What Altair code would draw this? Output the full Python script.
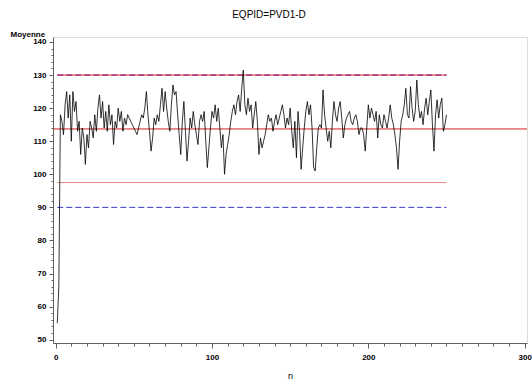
import altair as alt
import pandas as pd

# Série "Moyenne" (n = 1 .. 250)
moyenne = [
    55, 66, 118, 116, 112, 121, 125, 117, 124, 110,
    125, 119, 122, 113, 116, 106, 114, 111, 103, 112,
    108, 116, 114, 111, 118, 113, 120, 124, 117, 122,
    114, 119, 113, 121, 115, 118, 109, 116, 114, 120,
    116, 119, 113, 117, 115, 118, 117, 116, 115, 114,
    113, 112, 114, 116, 118, 117, 120, 125, 118, 113,
    107, 111, 117, 115, 118, 116, 121, 126, 119, 125,
    120, 116, 113, 121, 127, 124, 125, 118, 112, 106,
    116, 122, 113, 104, 110, 117, 114, 119, 115, 112,
    109, 116, 118, 116, 119, 110, 102, 108, 114, 119,
    117, 121, 116, 120, 114, 108, 112, 100, 106, 109,
    112, 116, 119, 121, 118, 122, 124, 119, 126, 131.5,
    121, 118, 123, 119, 121, 114, 118, 122, 116, 106,
    111, 108, 110, 112, 115, 118, 116, 117, 113, 116,
    118, 115, 117, 119, 121, 118, 114, 117, 115, 120,
    113, 108, 116, 105, 119, 113, 101.5, 108, 114, 119,
    122, 118, 121, 114, 102, 101, 108, 114, 115, 114,
    125.5, 118, 114, 110, 113, 108, 116, 122, 118, 116,
    120, 122, 117, 111, 115, 117, 118, 119, 116, 115,
    117, 118, 116, 112, 114, 114, 112, 107, 114, 121,
    117, 120, 118, 116, 119, 111, 118, 115, 114, 118,
    116, 114, 117, 121, 117, 115, 112, 108, 101.5, 110,
    116, 118, 121, 126, 118, 117, 126.5, 120, 116, 119,
    128.5, 121, 117, 119, 115, 120, 123, 118, 122, 125.5,
    115, 107, 118, 122.5, 117, 121, 123, 113, 115, 118,
]
n_index = list(range(1, len(moyenne) + 1))

# Lignes de référence
ref_names = ["ucl", "usl", "center", "lcl", "lsl"]
ref_levels = [130, 130, 113.7, 97.5, 90]
ref_start = [1, 1, -1.73, 1, 1]
ref_end = [250, 250, 301.5, 250, 250]
ref_style = ["solid", "dash", "solid", "solid", "dash"]
ref_colors = ["#d83030", "#800080", "#d02020", "#e88888", "#3a3acc"]

x_ticks = list(range(0, 301, 10))
y_ticks = list(range(50, 141, 2))

FONT = "Liberation Sans"

series = pd.DataFrame({"n": n_index, "Moyenne": moyenne})
refs = pd.DataFrame({
    "name": ref_names, "level": ref_levels, "start": ref_start,
    "end": ref_end, "style": ref_style,
})

x_scale = alt.Scale(domain=[-1.73, 301.5], nice=False, zero=False)
y_scale = alt.Scale(domain=[49, 141.5], nice=False, zero=False)

x_axis = alt.Axis(
    values=x_ticks,
    labelExpr="datum.value % 100 === 0 ? datum.label : ''",
    tickSize={"condition": {"test": "datum.value % 100 === 0", "value": 5}, "value": 3},
    labelFont=FONT, labelFontSize=8, labelFontWeight="bold", labelColor="#000000",
    labelPadding=5, labelFlush=False, labelOverlap=False,
    title="n", titleFont=FONT, titleFontSize=9, titleFontWeight="normal",
    titleColor="#000000", titlePadding=10,
    domainColor="#606060", tickColor="#606060", grid=False,
)
y_axis = alt.Axis(
    values=y_ticks,
    labelExpr="datum.value % 10 === 0 ? datum.label : ''",
    tickSize={"condition": {"test": "datum.value % 10 === 0", "value": 4}, "value": 2},
    labelFont=FONT, labelFontSize=8, labelFontWeight="bold", labelColor="#000000",
    labelPadding=3, labelFlush=False, labelOverlap=False,
    title="Moyenne", titleFont=FONT, titleFontSize=8, titleFontWeight="bold",
    titleColor="#000000", titleAngle=0, titleAlign="left", titleBaseline="alphabetic",
    titleX=-43, titleY=-1,
    domainColor="#606060", tickColor="#606060", grid=False,
)

color_scale = alt.Scale(domain=ref_names, range=ref_colors)

solid = alt.Chart(refs).transform_filter(alt.datum.style == "solid").mark_rule(
    strokeWidth=1
).encode(
    x=alt.X("start:Q", scale=x_scale, axis=x_axis),
    x2="end:Q",
    y=alt.Y("level:Q", scale=y_scale, axis=y_axis),
    color=alt.Color("name:N", scale=color_scale, legend=None),
)

dashed = alt.Chart(refs).transform_filter(alt.datum.style == "dash").mark_rule(
    strokeWidth=1, strokeDash=[6, 3]
).encode(
    x=alt.X("start:Q", scale=x_scale, axis=x_axis),
    x2="end:Q",
    y=alt.Y("level:Q", scale=y_scale, axis=y_axis),
    color=alt.Color("name:N", scale=color_scale, legend=None),
)

line = alt.Chart(series).mark_line(color="#000000", strokeWidth=0.8).encode(
    x=alt.X("n:Q", scale=x_scale, axis=x_axis),
    y=alt.Y("Moyenne:Q", scale=y_scale, axis=y_axis),
)

chart = alt.layer(solid, dashed, line).properties(
    width=474,
    height=306,
    title=alt.TitleParams(
        "EQPID=PVD1-D", font=FONT, fontSize=10, fontWeight="normal",
        color="#000000", anchor="middle", dx=-21, offset=10,
    ),
    autosize=alt.AutoSizeParams(type="none"),
    padding={"left": 53, "top": 37, "right": 5, "bottom": 40},
).configure_axis(
    labelOverlap=False
).configure_view(
    stroke="#606060", strokeWidth=1
).configure(background="#ffffff")

chart.save("out.html", embed_options={"renderer": "svg", "actions": False})
